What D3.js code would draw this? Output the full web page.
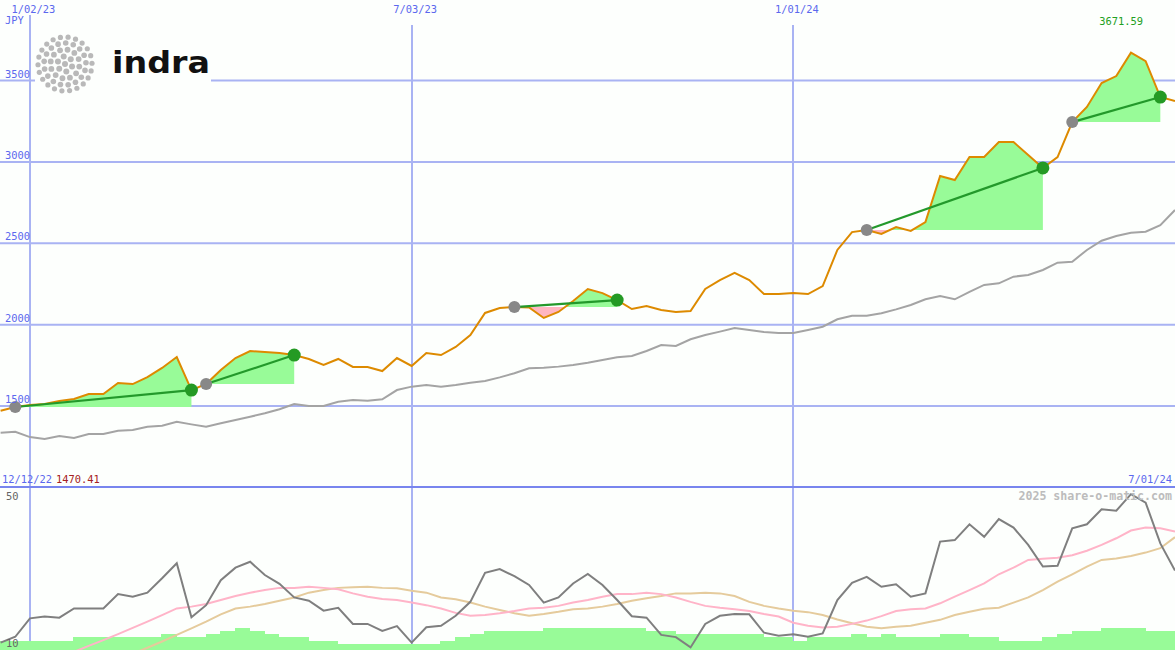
<!DOCTYPE html>
<html><head><meta charset="utf-8">
<script src="https://cdn.jsdelivr.net/npm/d3@7"></script>
<style>html,body{margin:0;padding:0;background:#fdfffd;}svg{display:block;}</style>
</head><body>
<svg id="c" width="1175" height="650"></svg>
<script>
// ---------- data ----------
const firstWeek = "2022-12-19";
const lastWeek = "2024-07-01";
const price = [1470.41,1494,1506,1512,1531,1543,1574,1574,1641,1635,
  1678,1734,1801,1598,1635,1721,1795,1838,1832,1826,
  1813,1789,1752,1789,1740,1740,1715,1795,1746,1826,
  1813,1863,1936,2072,2102,2108,2106,2041,2078,2145,
  2219,2194,2151,2096,2115,2090,2078,2084,2219,2274,
  2319,2274,2188,2188,2194,2188,2237,2459,2569,2582,
  2557,2600,2576,2631,2914,2889,3030,3030,3122,3122,
  3043,2963,3030,3245,3338,3485,3528,3671.59,3620,3399,3375];
const movingAvg = [1336,1342,1309,1297,1316,1303,1328,1328,1348,1352,
  1373,1379,1403,1387,1373,1394,1414,1434,1455,1480,
  1512,1500,1500,1526,1537,1533,1541,1598,1619,1629,
  1619,1629,1643,1654,1676,1701,1732,1735,1742,1752,
  1766,1783,1799,1807,1838,1875,1869,1910,1936,1957,
  1979,1967,1955,1949,1949,1967,1987,2033,2055,2055,
  2070,2094,2121,2156,2176,2156,2202,2244,2254,2295,
  2305,2336,2381,2387,2459,2516,2545,2565,2571,2612,2705];
const oscGray = [10.1,11.7,16.7,17.2,16.9,19.4,19.4,19.4,23.3,22.6,
  23.7,27.6,31.7,17.0,20.3,27.1,30.5,32.1,28.5,26.1,
  22.4,21.5,18.8,19.6,15.2,15.2,13.3,14.6,10.1,14.3,
  14.7,17.4,21.2,29.1,30.1,28.2,25.8,21.0,22.4,26.2,
  28.8,25.8,21.7,17.3,16.9,12.2,11.6,8.8,15.2,17.4,
  17.9,17.8,12.8,12.0,12.4,11.7,12.6,21.7,26.4,28.0,
  25.3,26.0,22.6,23.5,37.6,38.0,42.3,38.9,43.7,41.4,
  36.7,30.8,31.0,41.2,42.3,46.4,46.0,50.5,48.2,37.1,29.7];
const oscPink = [null,null,null,null,null,7.6,9.2,10.8,12.4,14.1,
  15.8,17.6,19.4,19.9,20.6,21.7,22.8,23.7,24.4,25.0,
  25.0,25.3,25.0,24.6,23.5,22.6,22.0,21.7,21.0,20.3,
  19.4,18.2,17.4,17.6,18.1,18.7,19.4,19.6,20.1,21.0,
  21.7,22.6,23.3,23.3,23.7,23.3,22.4,21.2,20.1,19.6,
  19.2,18.7,17.9,17.2,15.5,14.7,14.2,14.4,15.2,16.1,
  17.3,18.7,19.2,19.4,20.8,22.6,24.4,26.2,28.7,30.5,
  32.6,32.9,33.2,33.9,35.1,36.7,38.5,40.6,41.4,41.2,40.3];
const oscTan = [null,null,null,null,null,null,null,null,null,7.1,
  8.7,10.4,12.2,14.0,15.8,17.8,19.4,19.9,20.6,21.5,
  22.4,23.7,24.4,25.0,25.2,25.3,25.0,24.9,24.2,23.7,
  22.4,21.9,21.0,19.9,19.0,18.1,17.4,17.9,18.5,19.2,
  19.4,19.9,20.6,21.5,22.2,22.8,23.5,23.5,23.7,23.5,
  22.8,21.2,20.1,19.4,18.8,18.4,17.6,16.4,15.4,14.4,
  14.0,14.4,14.7,15.5,16.3,17.6,18.5,19.3,19.6,21.0,
  22.4,24.4,26.7,28.7,30.8,32.6,33.0,33.7,34.6,35.8,38.8];
const volLevel = [2,2,2,2,2,3,3,3,3,3,
  3,4,3,3,4,5,6,5,4,3,
  3,2,2,1,1,1,1,1,1,1,
  2,3,4,5,5,5,5,6,6,6,
  6,6,6,6,5,5,4,4,4,4,
  4,4,3,3,2,3,3,3,4,3,
  4,3,3,3,4,4,3,3,2,2,
  2,3,4,5,5,6,6,6,5,5,5];
const signalStart = [1,14,35,59,73];
const signalEnd = [13,20,42,71,79];
const priceTicks = [1500,2000,2500,3000,3500];
const dateTicks = ["2023-01-02","2023-07-03","2024-01-01"];
const oscTicks = [50,10];
const currency = "JPY";
const firstDateLabel = "12/12/22";
const firstValueLabel = "1470.41";
const lastDateLabel = "7/01/24";
const maxLabel = "3671.59";
const credit = "2025 share-o-matic.com";
const logoText = "indra";

// ---------- setup ----------
const W = 1175, H = 650, SEP = 487;
const svg = d3.select("#c");
const parse = d3.timeParse("%Y-%m-%d");
const fmt = d3.timeFormat("%-m/%d/%y");
const t0 = parse(firstWeek), t1 = parse(lastWeek);
const dates = d3.range(oscGray.length).map(i => d3.timeDay.offset(t0, 7 * i));
const x = d3.scaleTime().domain([t0, t1]).range([0.6, 1175]);
const y = d3.scaleLinear().domain([1500, 3500]).range([406, 80.6]);
const yo = d3.scaleLinear().domain([10, 50]).range([643, 496]);
const yv = d3.scaleLinear().domain([0, 6]).range([647.3, 627.5]);

const MONO = "'DejaVu Sans Mono', monospace";
const gridCol = "#a9b3f3";
const textBlue = "#5b68ee";

svg.append("rect").attr("width", W).attr("height", H).attr("fill", "#fdfffd");

const defs = svg.append("defs");
defs.append("clipPath").attr("id", "topClip").append("rect")
  .attr("x", 0).attr("y", 0).attr("width", W).attr("height", SEP - 1);
defs.append("clipPath").attr("id", "botClip").append("rect")
  .attr("x", 0).attr("y", SEP + 1).attr("width", W).attr("height", H - SEP - 1);

// ---------- grid ----------
svg.append("g").selectAll("line").data(priceTicks).join("line")
  .attr("x1", 0).attr("x2", W)
  .attr("y1", d => y(d)).attr("y2", d => y(d))
  .attr("stroke", gridCol).attr("stroke-width", 2);
svg.append("g").selectAll("line").data(dateTicks).join("line")
  .attr("x1", d => Math.round(x(parse(d)))).attr("x2", d => Math.round(x(parse(d))))
  .attr("y1", (d, i) => i === 0 ? 15 : 25).attr("y2", H)
  .attr("stroke", gridCol).attr("stroke-width", 2);

// logo box (covers grid)
svg.append("rect").attr("x", 35).attr("y", 30).attr("width", 176).attr("height", 68).attr("fill", "#fdfffd");

// ---------- logo ----------
const logo = svg.append("g");
const lc = [65, 64];
const rings = [[0, 1, 3.0], [7.5, 6, 3.0], [14.5, 12, 2.9], [21, 17, 2.8], [27, 22, 2.6]];
const pts = [];
rings.forEach(([rad, n, s], k) => {
  for (let j = 0; j < n; j++) {
    const a = (j / n) * 2 * Math.PI + k * 0.35;
    pts.push([lc[0] + rad * Math.cos(a), lc[1] + rad * Math.sin(a), s]);
  }
});
logo.selectAll("circle").data(pts).join("circle")
  .attr("cx", d => d[0]).attr("cy", d => d[1]).attr("r", d => d[2]).attr("fill", "#b9b9b9");
logo.append("text").attr("x", 112).attr("y", 73)
  .attr("font-family", "'DejaVu Sans', sans-serif").attr("font-weight", "bold")
  .attr("font-size", 30).attr("textLength", 98).attr("lengthAdjust", "spacingAndGlyphs")
  .attr("fill", "#111").text(logoText);

// ---------- top panel ----------
const topG = svg.append("g").attr("clip-path", "url(#topClip)");

// signal fills
signalStart.forEach((a, k) => {
  const b = signalEnd[k];
  const base = price[a];
  const idx = d3.range(a, b + 1);
  const area = d3.area().x(i => x(dates[i])).y0(y(base)).y1(i => y(price[i]));
  const gid = "sg" + k, pid = "sp" + k;
  defs.append("clipPath").attr("id", gid).append("rect")
    .attr("x", 0).attr("y", 0).attr("width", W).attr("height", y(base));
  defs.append("clipPath").attr("id", pid).append("rect")
    .attr("x", 0).attr("y", y(base)).attr("width", W).attr("height", SEP - y(base));
  topG.append("path").datum(idx).attr("d", area).attr("fill", "#98fb98").attr("clip-path", `url(#${gid})`);
  topG.append("path").datum(idx).attr("d", area).attr("fill", "#ffb6c1").attr("clip-path", `url(#${pid})`);
});

// moving average
topG.append("path").datum(movingAvg)
  .attr("d", d3.line().x((d, i) => x(dates[i])).y(d => y(d)))
  .attr("fill", "none").attr("stroke", "#a4a4a4").attr("stroke-width", 2);

// price
topG.append("path").datum(price)
  .attr("d", d3.line().x((d, i) => x(dates[i])).y(d => y(d)))
  .attr("fill", "none").attr("stroke", "#dd8a00").attr("stroke-width", 2);

// trend lines
signalStart.forEach((a, k) => {
  const b = signalEnd[k];
  topG.append("line")
    .attr("x1", x(dates[a])).attr("y1", y(price[a]))
    .attr("x2", x(dates[b])).attr("y2", y(price[b]))
    .attr("stroke", "#23992b").attr("stroke-width", 2.2);
});
topG.append("g").selectAll("circle").data(signalStart).join("circle")
  .attr("cx", i => x(dates[i])).attr("cy", i => y(price[i])).attr("r", 6).attr("fill", "#888888");
topG.append("g").selectAll("circle").data(signalEnd).join("circle")
  .attr("cx", i => x(dates[i])).attr("cy", i => y(price[i])).attr("r", 6.5).attr("fill", "#249a24");

// separator
svg.append("line").attr("x1", 0).attr("x2", W).attr("y1", SEP).attr("y2", SEP)
  .attr("stroke", "#7885ee").attr("stroke-width", 2.2);

// ---------- bottom panel ----------
const botG = svg.append("g").attr("clip-path", "url(#botClip)");
botG.append("g").selectAll("rect").data(volLevel).join("rect")
  .attr("x", (d, i) => x(dates[i]) - 0.6)
  .attr("width", (d, i) => x(d3.timeDay.offset(dates[i], 7)) - x(dates[i]) + 0.5)
  .attr("y", d => yv(d)).attr("height", d => H - yv(d))
  .attr("fill", "#98fb98").attr("shape-rendering", "crispEdges");

const oline = d3.line().defined(d => d != null).x((d, i) => x(dates[i])).y(d => yo(d));
botG.append("path").datum(oscTan).attr("d", oline)
  .attr("fill", "none").attr("stroke", "#e5cb9c").attr("stroke-width", 2);
botG.append("path").datum(oscPink).attr("d", oline)
  .attr("fill", "none").attr("stroke", "#ffb4c8").attr("stroke-width", 2);
botG.append("path").datum(oscGray).attr("d", oline)
  .attr("fill", "none").attr("stroke", "#7f7f7f").attr("stroke-width", 2);

// ---------- texts ----------
const txt = (g, xx, yy, s, col, anchor, size, weight) =>
  g.append("text").attr("x", xx).attr("y", yy).attr("fill", col)
    .attr("font-family", MONO).attr("font-size", size || 10)
    .attr("font-weight", weight || "normal")
    .attr("text-anchor", anchor || "start").text(s);

const tg = svg.append("g");
dateTicks.forEach(d => txt(tg, x(parse(d)) + 3.5, 12.7, fmt(parse(d)), textBlue, "middle", 10.4));
txt(tg, 5, 24, currency, textBlue, "start", 10.4);
priceTicks.forEach(v => txt(tg, 5, y(v) - 3, String(v), textBlue, "start", 10.4));
txt(tg, 1143, 24.5, maxLabel, "#22a022", "end", 10.4);
txt(tg, 2, 482.7, firstDateLabel, textBlue, "start", 10.4);
txt(tg, 56, 482.7, firstValueLabel, "#a52222", "start", 10.4);
txt(tg, 1172, 482.7, lastDateLabel, textBlue, "end", 10.4);
oscTicks.forEach(v => txt(tg, 6, yo(v) + 3.5, String(v), "#666666", "start", 10.4));
txt(tg, 1172, 499.5, credit, "#bcbcbc", "end", 11.6, "bold");
</script>
</body></html>
